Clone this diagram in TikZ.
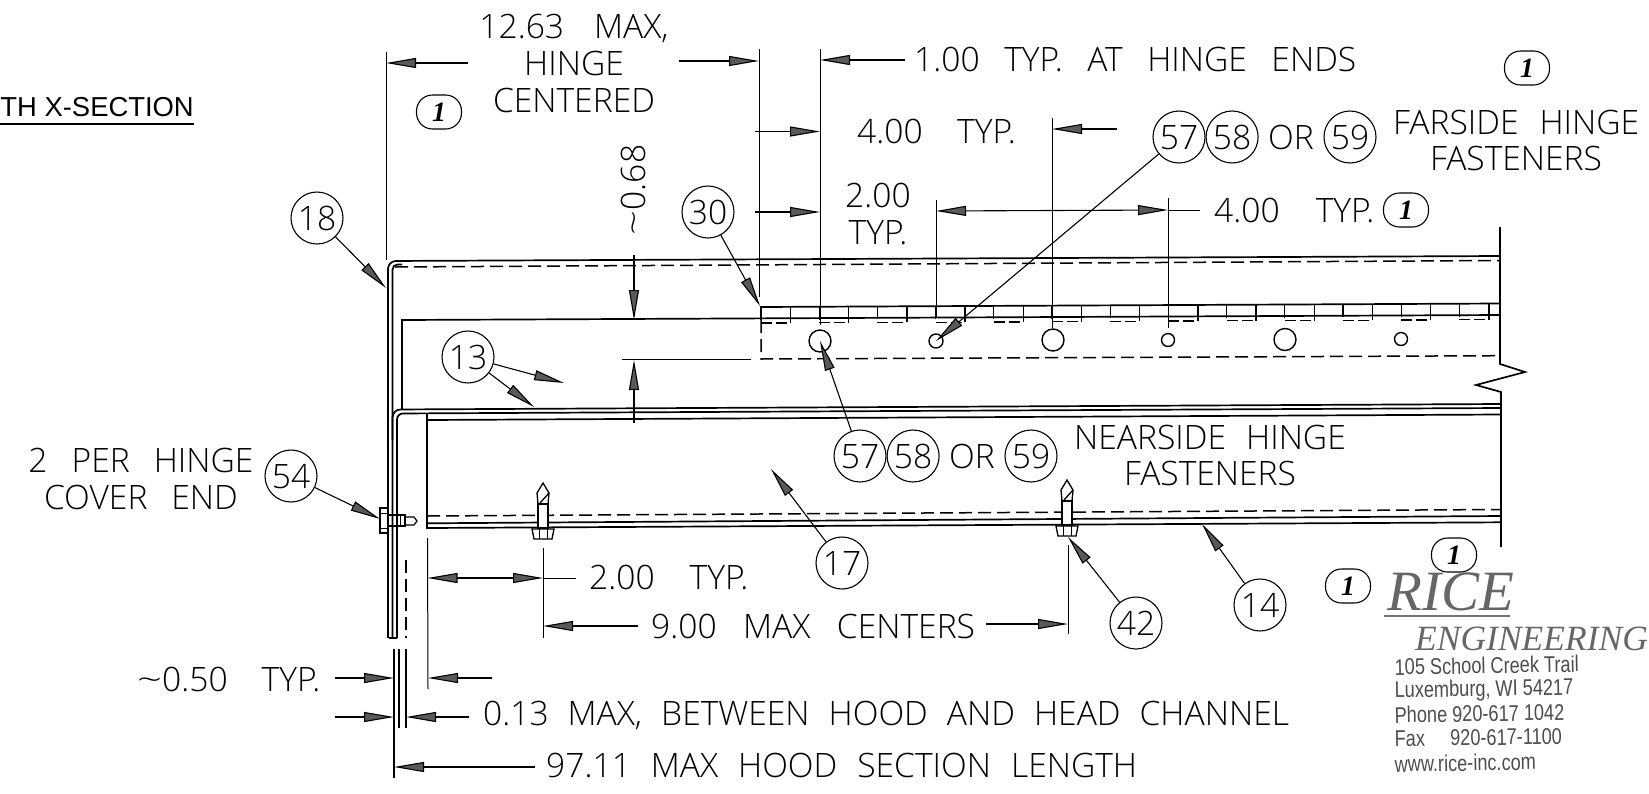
\documentclass[tikz,border=0pt]{standalone}
\usepackage{fontspec}
\setmainfont{Open Sans Light}
\newfontfamily\labelfont{Liberation Sans}
\newfontfamily\logofont{Liberation Serif}
\newfontfamily\addrfont[FakeStretch=0.8]{Liberation Sans}
\usetikzlibrary{arrows.meta}
\usetikzlibrary{positioning}

\tikzset{screw/.pic={
  \draw[fill=white, line width=1.3pt] (0,0)--(6,10)--(5,21)--(-5,21)--(-6,10)--cycle;
  \draw[line width=1.3pt] (6,10)--(-3,20);
  \draw[fill=white, line width=2pt] (-5,21) rectangle (5,45);
  \draw[fill=white, line width=1.3pt] (-11,46) -- (-9,56) -- (9,56) -- (11,46) -- cycle;
  \draw[line width=1pt] (-4,46)--(-4,56) (4,46)--(4,56);
}}

\begin{document}
\begin{tikzpicture}[x=1pt, y=-1pt]
  \tikzstyle{dimtext}=[font=\fontsize{33.6}{36}\selectfont, inner sep=0pt, text height=24pt, text depth=0pt]
  \tikzstyle{wordgap}=[execute at begin node={\spaceskip=#1pt\relax}]
  \tikzstyle{numcircle}=[dimtext, circle, draw, line width=1.1pt, minimum size=52pt]
  \tikzstyle{revflag}=[rectangle, rounded corners=16pt, draw, line width=1.1pt, minimum width=45pt, minimum height=34pt, inner sep=0pt, font=\fontsize{28}{30}\logofont\bfseries\itshape]
  \tikzstyle{dim}=[-{Triangle[length=30pt, width=10pt, fill=black!65]}, line width=1.1pt]
  \tikzstyle{dimboth}=[{Triangle[length=30pt, width=10pt, fill=black!65]}-{Triangle[length=30pt, width=10pt, fill=black!65]}, line width=1.1pt]
  \tikzstyle{extline}=[line width=1pt]
  \tikzstyle{solid line}=[line width=1.7pt]
  \tikzstyle{hidden}=[line width=1.5pt, dash pattern=on 13pt off 6pt]
  \tikzstyle{addr}=[inner sep=0pt, anchor=west, rotate=1, text=black!70, font=\fontsize{22.7}{24}\addrfont]

  \useasboundingbox (0,0) rectangle (1649,793);

  \node (title) [inner sep=0pt, anchor=east, font=\fontsize{27.4}{30}\labelfont] at (194,107) {TH X-SECTION};
  \draw[line width=1.3pt] (0,124) -- (194,124);

  \draw[solid line, rounded corners=8pt] (388,638) -- (388,261) -- (1500,256);
  \draw[solid line, rounded corners=5pt] (392.5,638) -- (392.5,264.5) -- (402,264.5);
  \draw[hidden] (395,267) -- (1500,260.5);
  \draw[solid line] (402,409) -- (402,320) -- (1500,315);
  \draw[solid line] (760,307) -- (1500,303.5);
  \draw[solid line, rounded corners=8pt] (392.5,440) -- (392.5,409.5) -- (1501,404);
  \draw[solid line, rounded corners=6pt] (397,638) -- (397,413.5) -- (1501,408);
  \draw[solid line] (427,420) -- (1501,414.5);
  \draw[solid line] (427,413) -- (427,528) -- (1501,522.3);
  \draw[solid line] (427,523.3) -- (1501,516);
  \draw[hidden] (427,516) -- (1501,509.5);
  \draw[solid line] (389,638) -- (397,638);
  \draw[hidden] (406,560) -- (406,638);
  \draw[hidden] (761,320) -- (761,359) -- (1500,355.7);

  \foreach \i in {0,...,12} {
    \pgfmathsetmacro{\xa}{761+58.2*\i}
    \pgfmathsetmacro{\xb}{\xa+29.5}
    \pgfmathsetmacro{\ya}{307-0.0047*(\xa-761)}
    \pgfmathsetmacro{\yb}{323-0.0047*(\xa-761)}
    \draw[line width=1.3pt] (\xa,\ya) -- (\xa,\yb-3) (\xb,\ya) -- (\xb,\yb);
    \draw[line width=1.3pt, dash pattern=on 11pt off 4pt] (\xa,\yb) -- (\xb,\yb);
  }

  \foreach \cx/\cy/\rad in {820/341/11, 936/341/7, 1053/340/11, 1168/340/6.5, 1285/339.5/11, 1401/339/6.5}
    \draw[line width=1.4pt] (\cx,\cy) circle (\rad);

  \draw[solid line] (1500,227) -- (1500,364) -- (1525,372) -- (1476,385) -- (1501,392) -- (1501,547);

  \pic at (543,483) {screw};
  \pic at (1067,480) {screw};

  \draw[line width=1.2pt, fill=white] (380,508) rectangle (388,533);
  \draw[line width=1pt] (380,513) -- (388,513) (380,528) -- (388,528);
  \draw[line width=1.2pt] (388,515) rectangle (405,526);
  \draw[line width=1pt] (396,515) -- (396,526) (400,515) -- (400,526);
  \draw[line width=1.2pt] (405,517) -- (414,517) -- (417,521) -- (414,525) -- (405,525);

  \draw[line width=1.3pt] (394,649) -- (394,778);
  \draw[line width=1.3pt] (399,649) -- (399,728);
  \draw[line width=1.3pt] (406,649) -- (406,728);

  \draw[extline] (386,52) -- (386,260);
  \draw[extline] (759,49) -- (759,297);
  \draw[extline] (820,49) -- (820,325);
  \draw[extline] (936,200) -- (936,318);
  \draw[extline] (1052,118) -- (1052,328);
  \draw[extline] (1168,198) -- (1168,328);
  \draw[extline] (622,359) -- (751,359);
  \draw[extline] (427.5,538) -- (428,689);
  \draw[extline] (543,548) -- (543,638);
  \draw[extline] (1068,545) -- (1068,634);

  \node (hingemax) [dimtext, wordgap=30] at (574,26) {12.63~MAX,};
  \node (hingeword) [dimtext, below=13pt of hingemax] {HINGE};
  \node (hingecentered) [dimtext, below=13pt of hingeword] {CENTERED};
  \node (hingeend) [dimtext, wordgap=24.5, anchor=west] at (914,59) {1.00~TYP.~AT~HINGE~ENDS};
  \node (pitchtop) [dimtext, wordgap=34.5, anchor=west] at (857,131) {4.00~TYP.};
  \node (halfpitch) [dimtext] at (878,195) {2.00};
  \node (halfpitchtyp) [dimtext] at (878,232) {TYP.};
  \node (pitchmid) [dimtext, wordgap=36, anchor=west] at (1214,210) {4.00~TYP.};
  \node (farside) [dimtext, wordgap=21, anchor=west] at (1393,122) {FARSIDE~HINGE};
  \node (farfast) [dimtext] at (1516,158) {FASTENERS};
  \node (clearance) [dimtext, rotate=90] at (633,190) {\scalebox{1.3}[1]{\char`\~}0.68};
  \node (coverend) [dimtext, wordgap=24] at (141,460) {2~PER~HINGE};
  \node (coverend2) [dimtext, wordgap=24] at (141,497) {COVER~END};
  \node (nearside) [dimtext, wordgap=20, anchor=west] at (1074,437) {NEARSIDE~HINGE};
  \node (nearfast) [dimtext] at (1210,473) {FASTENERS};
  \node (endspace) [dimtext, wordgap=35, anchor=west] at (589,577) {2.00~TYP.};
  \node (maxcenters) [dimtext, wordgap=26.5, anchor=west] at (651,626) {9.00~MAX~CENTERS};
  \node (thick) [dimtext, wordgap=34, anchor=west] at (137,679) {\scalebox{1.3}[1]{\char`\~}0.50~TYP.};
  \node (hoodgap) [dimtext, wordgap=19, anchor=west] at (483,713) {0.13~MAX,~BETWEEN~HOOD~AND~HEAD~CHANNEL};
  \node (hoodlen) [dimtext, wordgap=20, anchor=west] at (546,765) {97.11~MAX~HOOD~SECTION~LENGTH};

  \node (c18) [numcircle] at (317,218) {18};
  \node (c30) [numcircle] at (708,212) {30};
  \node (c13) [numcircle] at (468,357) {13};
  \node (c54) [numcircle] at (291,476) {54};
  \node (c17) [numcircle] at (842,563) {17};
  \node (c42) [numcircle] at (1136,623) {42};
  \node (c14) [numcircle] at (1260,605) {14};
  \node (far57) [numcircle] at (1179,137) {57};
  \node (far58) [numcircle, right=0pt of far57] {58};
  \node (farOr) [dimtext] at (1291,137) {OR};
  \node (far59) [numcircle] at (1350,137) {59};
  \node (near57) [numcircle] at (860,456) {57};
  \node (near58) [numcircle, right=0pt of near57] {58};
  \node (nearOr) [dimtext] at (972,456) {OR};
  \node (near59) [numcircle] at (1031,456) {59};

  \node (rev1) [revflag] at (439,112) {1};
  \node (rev2) [revflag] at (1527,68) {1};
  \node (rev3) [revflag] at (1406,210) {1};
  \node (rev4) [revflag] at (1454,555) {1};
  \node (rev5) [revflag] at (1348,586) {1};

  \coordinate (t18) at (386,288);
  \coordinate (t30) at (760,306);
  \coordinate (t13a) at (564,383);
  \coordinate (t13b) at (534,407);
  \coordinate (t54) at (380,519);
  \coordinate (tfar) at (936,341);
  \coordinate (tnear) at (820,341);
  \coordinate (t17) at (771,469);
  \coordinate (t42) at (1068,537);
  \coordinate (t14) at (1202,524);
  \draw[dim] (c18) -- (t18);
  \draw[dim] (c30) -- (t30);
  \draw[dim] (c13) -- (t13a);
  \draw[dim] (c13) -- (t13b);
  \draw[dim] (c54) -- (t54);
  \draw[dim] (far57) -- (tfar);
  \draw[dim] (near57) -- (tnear);
  \draw[dim] (c17) -- (t17);
  \draw[dim] (c42) -- (t42);
  \draw[dim] (c14) -- (t14);

  \draw[dim] (468,63) -- (386,63);
  \draw[dim] (679,61) -- (759,61);
  \draw[dim] (904.5,60) -- (820,60);
  \draw[dim] (755,131.5) -- (820,131.5);
  \draw[dim] (755,212) -- (820,212);
  \draw[dim] (1117,129) -- (1052,129);
  \draw[dimboth] (936,211) -- (1168,210);
  \draw[extline] (1168,210) -- (1200,210);
  \draw[dim] (634,255) -- (634,320);
  \draw[dim] (634,423) -- (634,360);
  \draw[dimboth] (427.5,578) -- (543,578);
  \draw[extline] (543,578) -- (575.5,578);
  \draw[dim] (638,626) -- (543,626);
  \draw[dim] (986,624) -- (1068,624);
  \draw[dim] (335,678) -- (394,678);
  \draw[dim] (492,678) -- (428,678);
  \draw[dim] (335,717) -- (394,717);
  \draw[dim] (469,717) -- (406,717);
  \draw[dim] (535,767) -- (394,767);

  \node (rice) [inner sep=0pt, anchor=west, text=black!60, text height=38pt, text depth=0pt, font=\fontsize{57}{60}\logofont\itshape] at (1387,591) {RICE};
  \draw[line width=2pt, black!55] (1384,616) -- (1510,616);
  \node (engineering) [inner sep=0pt, anchor=west, text=black!60, text height=25pt, text depth=0pt, font=\fontsize{35.5}{38}\logofont\itshape] at (1415,638) {ENGINEERING};
  \node (street) [addr] at (1394.5,667) {105 School Creek Trail};
  \node (city) [addr] at (1394.5,692) {Luxemburg, WI 54217};
  \node (phone) [addr] at (1394.5,715) {Phone 920-617 1042};
  \node (fax) [addr] at (1394.5,739) {Fax~~~~~920-617-1100};
  \node (web) [addr] at (1394.5,764) {www.rice-inc.com};
\end{tikzpicture}
\end{document}
